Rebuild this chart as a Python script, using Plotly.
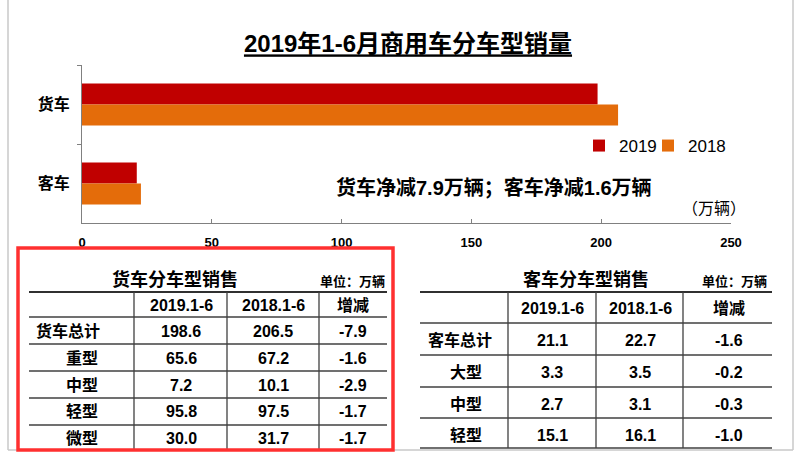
import plotly.graph_objects as go

# ---------------- data ----------------
categories = ["货车", "客车"]
sales_2019 = [198.6, 21.1]
sales_2018 = [206.5, 22.7]
x_ticks = [0, 50, 100, 150, 200, 250]

table_header = ["2019.1-6", "2018.1-6", "增减"]

truck_rows = ["货车总计", "重型", "中型", "轻型", "微型"]
truck_2019 = [198.6, 65.6, 7.2, 95.8, 30.0]
truck_2018 = [206.5, 67.2, 10.1, 97.5, 31.7]
truck_change = [-7.9, -1.6, -2.9, -1.7, -1.7]

bus_rows = ["客车总计", "大型", "中型", "轻型"]
bus_2019 = [21.1, 3.3, 2.7, 15.1]
bus_2018 = [22.7, 3.5, 3.1, 16.1]
bus_change = [-1.6, -0.2, -0.3, -1.0]

W, H = 800, 453
FONT = "Liberation Sans, Noto Sans CJK SC, sans-serif"


def px(x):
    return x / W


def py(y):
    return 1 - y / H


fig = go.Figure()
fig.add_trace(go.Bar(y=categories, x=sales_2019, name="2019", orientation="h",
                     legend="legend", showlegend=True,
                     marker=dict(color="#C00000", line=dict(width=0))))
fig.add_trace(go.Bar(y=categories, x=sales_2018, name="2018", orientation="h",
                     legend="legend2", showlegend=True,
                     marker=dict(color="#E46C0A", line=dict(width=0))))

shapes = []
annotations = []


def text(x, y, s, size, bold=True, xanchor="center", color="black"):
    annotations.append(dict(x=px(x), y=py(y), xref="paper", yref="paper",
                            text=s, showarrow=False, xanchor=xanchor, yanchor="middle",
                            font=dict(family=FONT, size=size, color=color,
                                      weight="bold" if bold else "normal")))


def line(x0, y0, x1, y1, width=1, color="#404040"):
    shapes.append(dict(type="line", xref="paper", yref="paper",
                       x0=px(x0), y0=py(y0), x1=px(x1), y1=py(y1),
                       line=dict(color=color, width=width)))


# page frame
line(8, 0, 8, 450, 1.5, "#c8c8c8")
line(793, 0, 793, 450, 1.5, "#c8c8c8")
line(8, 450, 793, 450, 1.5, "#c8c8c8")

# chart annotations
text(494, 187, "货车净减7.9万辆；客车净减1.6万辆", 20)
text(714, 208, "（万辆）", 16, bold=False)


def draw_table(title, title_x, unit_x, left, right, cols, row_lines, bottom,
               header_y, label_x, col_x, rows, v1, v2, v3, row_y, first_label_x):
    text(title_x, 279, title, 18)
    text(unit_x, 281, "单位：万辆", 13)
    line(left, 292, right, 292, 2.2, "#303030")
    for yl in row_lines:
        line(left, yl, right, yl, 1.3, "#404040")
    for xc in cols:
        line(xc, 292, xc, bottom, 1.3, "#404040")
    for i, h in enumerate(table_header):
        text(col_x[i], header_y, h, 16)
    for r, lab in enumerate(rows):
        lx = first_label_x if r == 0 else label_x
        text(lx, row_y[r], lab, 16)
        text(col_x[0], row_y[r], f"{v1[r]:.1f}", 16)
        text(col_x[1], row_y[r], f"{v2[r]:.1f}", 16)
        text(col_x[2], row_y[r], f"{v3[r]:.1f}", 16)


draw_table("货车分车型销售", 175, 352, 29, 387, [134, 227, 319],
           [317, 344, 371, 398, 425], 450, 305, 82, [181, 273, 353],
           truck_rows, truck_2019, truck_2018, truck_change,
           [331, 358, 385, 411, 438], 68)

draw_table("客车分车型销售", 586, 734, 420, 772, [508, 596, 683],
           [323, 355, 387, 418, 448], 448, 308, 466, [552, 640, 729],
           bus_rows, bus_2019, bus_2018, bus_change,
           [340, 372, 404, 435], 460)

# red highlight box
shapes.append(dict(type="rect", xref="paper", yref="paper",
                   x0=px(18), y0=py(450), x1=px(393), y1=py(248),
                   line=dict(color="#FF3030", width=3.5)))

legend_font = dict(family=FONT, size=17, color="black")

fig.update_layout(
    width=W, height=H,
    showlegend=True,
    margin=dict(l=0, r=0, t=0, b=0, autoexpand=False),
    paper_bgcolor="white", plot_bgcolor="white",
    barmode="group", bargap=0.47, bargroupgap=0,
    title=dict(text="<u>2019年1-6月商用车分车型销量</u>", x=408 / W, xanchor="center",
               y=py(44), yanchor="middle",
               font=dict(family=FONT, size=24, color="black", weight="bold")),
    xaxis=dict(domain=[px(82), px(731)], range=[0, 250], tickvals=x_ticks,
               showgrid=False, zeroline=False, showline=True, linecolor="#808080",
               linewidth=1, ticks="inside", ticklen=4, tickcolor="#808080",
               ticklabelstandoff=7,
               tickfont=dict(family=FONT, size=13, color="black", weight="bold")),
    yaxis=dict(domain=[py(223), py(65)], autorange="reversed", showgrid=False,
               showline=True, linecolor="#808080", linewidth=1,
               ticks="outside", ticklen=4, tickcolor="#808080", tickson="boundaries",
               ticklabelstandoff=8,
               tickfont=dict(family=FONT, size=16, color="black", weight="bold")),
    legend=dict(orientation="h", x=px(579), y=py(146), xanchor="left", yanchor="middle",
                font=legend_font, itemwidth=30, bgcolor="rgba(0,0,0,0)", visible=True),
    legend2=dict(orientation="h", x=px(648), y=py(146), xanchor="left", yanchor="middle",
                 font=legend_font, itemwidth=30, bgcolor="rgba(0,0,0,0)", visible=True),
    shapes=shapes,
    annotations=annotations,
)

fig.write_html("out.html", config={"displayModeBar": False},
               post_script="document.body.style.margin='0';document.body.style.overflow='hidden';")
